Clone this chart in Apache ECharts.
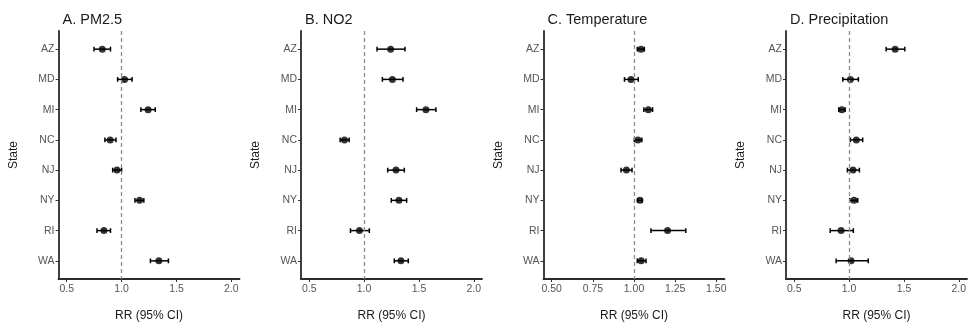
<!DOCTYPE html>
<html>
<head>
<meta charset="utf-8">
<script src="https://cdn.jsdelivr.net/npm/echarts@6/dist/echarts.min.js"></script>
<style>
html,body{margin:0;padding:0;background:#fff;}
#chart{width:971px;height:331px;}
</style>
</head>
<body>
<div id="chart"></div>
<script>
const states = ['AZ','MD','MI','NC','NJ','NY','RI','WA'];
const panelTitles = ['A. PM2.5','B. NO2','C. Temperature','D. Precipitation'];
const ticksWide = [0.5, 1.0, 1.5, 2.0];
const ticksTemp = [0.5, 0.75, 1.0, 1.25, 1.5];

const pm25Est  = [0.824, 1.027, 1.242, 0.896, 0.958, 1.164, 0.839, 1.340];
const pm25Low  = [0.749, 0.964, 1.176, 0.848, 0.919, 1.122, 0.776, 1.263];
const pm25High = [0.899, 1.096, 1.307, 0.949, 1.000, 1.203, 0.899, 1.427];

const no2Est  = [1.242, 1.258, 1.564, 0.821, 1.291, 1.318, 0.958, 1.336];
const no2Low  = [1.118, 1.167, 1.479, 0.782, 1.215, 1.248, 0.876, 1.276];
const no2High = [1.373, 1.355, 1.655, 0.864, 1.367, 1.388, 1.048, 1.403];

const tempEst  = [1.042, 0.982, 1.087, 1.024, 0.954, 1.036, 1.204, 1.044];
const tempLow  = [1.020, 0.942, 1.060, 1.002, 0.921, 1.022, 1.103, 1.020];
const tempHigh = [1.063, 1.026, 1.113, 1.048, 0.988, 1.048, 1.315, 1.073];

const precEst  = [1.420, 1.012, 0.934, 1.066, 1.036, 1.045, 0.927, 1.018];
const precLow  = [1.338, 0.943, 0.906, 1.012, 0.985, 1.006, 0.828, 0.882];
const precHigh = [1.508, 1.085, 0.964, 1.124, 1.094, 1.079, 1.039, 1.175];

const panels = [
  {est: pm25Est, low: pm25Low, high: pm25High, ticks: ticksWide, min: 0.425, max: 2.075, dec: 1},
  {est: no2Est,  low: no2Low,  high: no2High,  ticks: ticksWide, min: 0.425, max: 2.075, dec: 1},
  {est: tempEst, low: tempLow, high: tempHigh, ticks: ticksTemp, min: 0.45,  max: 1.55,  dec: 2},
  {est: precEst, low: precLow, high: precHigh, ticks: ticksWide, min: 0.425, max: 2.075, dec: 1}
];

const gridLefts = [58.5, 301, 543.5, 786];
const gridWidth = 181;
const gridTop = 31;
const gridHeight = 248;
const font = '"Liberation Sans", Arial, Helvetica, sans-serif';
const stateIdx = states.map((s, i) => i + 1);

const option = {
  animation: false,
  backgroundColor: '#ffffff',
  title: panelTitles.map((t, i) => ({
    text: t, left: gridLefts[i] - 1, top: 7,
    textStyle: {fontFamily: font, fontSize: 14.5, fontWeight: 'normal', color: '#1a1a1a'}
  })),
  grid: gridLefts.map(l => ({left: l, top: gridTop, width: gridWidth, height: gridHeight, containLabel: false})),
  xAxis: panels.map((p, i) => ({
    type: 'value', gridIndex: i, min: p.min, max: p.max,
    name: 'RR (95% CI)', nameLocation: 'middle', nameGap: 31,
    nameTextStyle: {fontFamily: font, fontSize: 12, color: '#1a1a1a'},
    axisLine: {show: true, onZero: false, lineStyle: {color: '#2b2b2b', width: 1.8}},
    axisTick: {show: true, length: 3, customValues: p.ticks, lineStyle: {color: '#333', width: 1}},
    axisLabel: {customValues: p.ticks, fontFamily: font, fontSize: 10.5, color: '#555', margin: 5,
      formatter: v => Number(v).toFixed(p.dec)},
    splitLine: {show: false}
  })),
  yAxis: panels.map((p, i) => ({
    type: 'value', gridIndex: i, min: 0.4, max: 8.6, inverse: true,
    name: 'State', nameLocation: 'middle', nameGap: 39, nameRotate: 90,
    nameTextStyle: {fontFamily: font, fontSize: 12, color: '#1a1a1a'},
    axisLine: {show: true, onZero: false, lineStyle: {color: '#2b2b2b', width: 1.8}},
    axisTick: {show: true, length: 3, customValues: stateIdx, lineStyle: {color: '#333', width: 1}},
    axisLabel: {customValues: stateIdx, fontFamily: font, fontSize: 10.5, color: '#555', margin: 4,
      formatter: v => states[Math.round(v) - 1] || ''},
    splitLine: {show: false}
  })),
  series: []
};

panels.forEach((p, i) => {
  option.series.push({
    type: 'custom', xAxisIndex: i, yAxisIndex: i,
    data: states.map((s, k) => [p.low[k], p.high[k], k + 1]),
    encode: {x: [0, 1], y: 2},
    renderItem: function (params, api) {
      const a = api.coord([api.value(0), api.value(2)]);
      const b = api.coord([api.value(1), api.value(2)]);
      const h = 2.4;
      const st = {stroke: '#000', lineWidth: 1.5};
      return {type: 'group', children: [
        {type: 'line', shape: {x1: a[0], y1: a[1], x2: b[0], y2: b[1]}, style: st},
        {type: 'line', shape: {x1: a[0], y1: a[1] - h, x2: a[0], y2: a[1] + h}, style: st},
        {type: 'line', shape: {x1: b[0], y1: b[1] - h, x2: b[0], y2: b[1] + h}, style: st}
      ]};
    },
    silent: true, z: 3
  });
  option.series.push({
    type: 'scatter', xAxisIndex: i, yAxisIndex: i,
    data: states.map((s, k) => [p.est[k], k + 1]),
    symbol: 'circle', symbolSize: 7,
    itemStyle: {color: '#000'},
    silent: true, z: 4,
    markLine: {
      silent: true, symbol: 'none', label: {show: false},
      lineStyle: {color: '#8c8c8c', type: [4, 3], width: 1.3},
      data: [{xAxis: 1}]
    }
  });
});

const chart = echarts.init(document.getElementById('chart'), null, {renderer: 'canvas'});
chart.setOption(option);
</script>
</body>
</html>
